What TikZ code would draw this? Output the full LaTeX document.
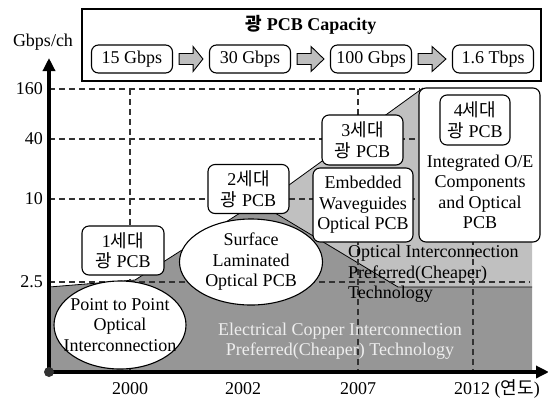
\documentclass[tikz,border=0pt]{standalone}
\usepackage{fontspec}
\setmainfont{Liberation Serif}
\newfontfamily\kr{Noto Sans CJK KR}
\usetikzlibrary{calc,arrows.meta,shapes.geometric}
\definecolor{darkfill}{RGB}{150,150,150}
\definecolor{lightfill}{RGB}{192,192,192}
\definecolor{dashcol}{RGB}{50,50,50}
\definecolor{arrowfill}{RGB}{190,190,190}
\definecolor{paletext}{RGB}{238,238,238}
\begin{document}
\begin{tikzpicture}[x=1pt,y=-1pt,
  font=\fontsize{18}{20.5}\selectfont,
  rbox/.style={draw=black, line width=1.1pt, rounded corners=7pt, fill=white, align=center, inner sep=0pt},
  capbox/.style={rbox, minimum width=81pt, minimum height=28pt},
  oval/.style={ellipse, draw=black, line width=1.1pt, fill=white, inner sep=0pt},
  gridline/.style={draw=dashcol, line width=1.5pt, dash pattern=on 6pt off 4pt},
  blockarrow/.style={draw=black, line width=0.9pt, fill=arrowfill},
  axisline/.style={line width=3.6pt, -{Triangle[length=13pt,width=12pt]}},
  lbl/.style={inner sep=0pt},
  kr/.style={font=\fontsize{16}{20.5}\selectfont\kr}
]
\useasboundingbox (0,0) rectangle (548,400);

% shaded regions
\fill[darkfill] (49,287) -- (135,280) -- (240,213) -- (275,213) -- (398,287) -- (532,287) -- (532,372) -- (49,372) -- cycle;
\fill[lightfill] (260,206) -- (423,88) -- (532,88) -- (532,287) -- (398,287) -- (275,213) -- cycle;
\draw[line width=0.8pt] (275,213) -- (398,287) -- (532,287);
\draw[line width=0.8pt] (49,287) -- (135,280) -- (240,213);
\draw[line width=0.8pt] (260,206) -- (423,88);

% grid
\coordinate (g160a) at (49,89);  \coordinate (g160b) at (420,89);
\coordinate (g40a) at (49,139);  \coordinate (g40b) at (420,139);
\coordinate (g10a) at (49,199);  \coordinate (g10b) at (420,199);
\coordinate (g25a) at (49,282);  \coordinate (g25b) at (530,282);
\coordinate (v1a) at (130,89);   \coordinate (v1b) at (130,372);
\coordinate (v2a) at (358,89);   \coordinate (v2b) at (358,372);
\coordinate (v3a) at (473,89);   \coordinate (v3b) at (473,372);
\draw[gridline] (g160a) -- (g160b);
\draw[gridline] (g40a) -- (g40b);
\draw[gridline] (g10a) -- (g10b);
\draw[gridline] (g25a) -- (g25b);
\draw[gridline] (v1a) -- (v1b);
\draw[gridline] (v2a) -- (v2b);
\draw[gridline] (v3a) -- (v3b);

% region texts
\node[lbl, anchor=north west, align=left] (optpref) at (348,245) {Optical Interconnection\\Preferred(Cheaper)\\Technology};
\node[lbl, align=center, text=paletext] (elecpref) at (340,341) {Electrical Copper Interconnection\\Preferred(Cheaper) Technology};

% title box
\node[draw=black, line width=1.1pt, minimum width=459pt, minimum height=72pt, inner sep=0pt] (capframe) at (311.5,45) {};
\node[lbl] (captitle) at (311,25) {\bfseries{\kr 광} PCB Capacity};
\node[capbox] (c1) at (132,59) {15 Gbps};
\node[capbox] (c2) at (250,59) {30 Gbps};
\node[capbox] (c3) at (371,59) {100 Gbps};
\node[capbox] (c4) at (493,59) {1.6 Tbps};
\foreach \a/\b in {c1/c2,c2/c3,c3/c4}{
  \draw[blockarrow] ($(\a.east)+(6,-5.5)$) -- ($(\a.east)+(20,-5.5)$) -- ($(\a.east)+(20,-12.5)$)
     -- ($(\b.west)+(-6,0)$) -- ($(\a.east)+(20,12.5)$) -- ($(\a.east)+(20,5.5)$) -- ($(\a.east)+(6,5.5)$) -- cycle;
}

% generation boxes
\node[oval, minimum width=132pt, minimum height=88pt] (p2p) at (120,325) {};
\node[lbl, align=center] (p2ptext) at (p2p.center) {Point to Point\\Optical\\Interconnection};
\node[rbox, minimum width=82pt, minimum height=49pt] (gen1) at (123,250.5) {1{\kr 세대}\\{\kr 광} PCB};
\node[oval, minimum width=143pt, minimum height=86pt] (surf) at (251,262) {};
\node[lbl, align=center] (surftext) at (surf.center) {Surface\\Laminated\\Optical PCB};
\node[rbox, minimum width=81pt, minimum height=49pt] (gen2) at (248.5,189) {2{\kr 세대}\\{\kr 광} PCB};
\node[rbox, minimum width=100pt, minimum height=74pt] (embed) at (363,205) {Embedded\\Waveguides\\Optical PCB};
\node[rbox, minimum width=81pt, minimum height=50pt] (gen3) at (362.5,140) {3{\kr 세대}\\{\kr 광} PCB};
\node[rbox, minimum width=121pt, minimum height=154pt] (bigbox) at (479.5,165) {};
\node[rbox, minimum width=70pt, minimum height=50pt] (gen4) at (475,120) {4{\kr 세대}\\{\kr 광} PCB};
\node[lbl, align=center] (integ) at (480,192) {Integrated O/E\\Components\\and Optical\\PCB};

% axes
\coordinate (O) at (49,372);
\coordinate (ytip) at (49,58);
\coordinate (xtip) at (549,372);
\draw[axisline] (O) -- (ytip);
\draw[axisline] (O) -- (xtip);
\fill[dashcol] (O) circle (5pt);

% axis labels
\node[lbl] (yunit) at (43,42) {Gbps/ch};
\node[lbl, anchor=east] (y160) at (43,89) {160};
\node[lbl, anchor=east] (y40) at (43,139) {40};
\node[lbl, anchor=east] (y10) at (43,199) {10};
\node[lbl, anchor=east] (y25) at (43,282) {2.5};
\node[lbl] (x2000) at (130,389) {2000};
\node[lbl] (x2002) at (243,389) {2002};
\node[lbl] (x2007) at (358,389) {2007};
\node[lbl, anchor=west] (x2012) at (454,389) {2012 ({\kr 연도})};
\end{tikzpicture}
\end{document}
